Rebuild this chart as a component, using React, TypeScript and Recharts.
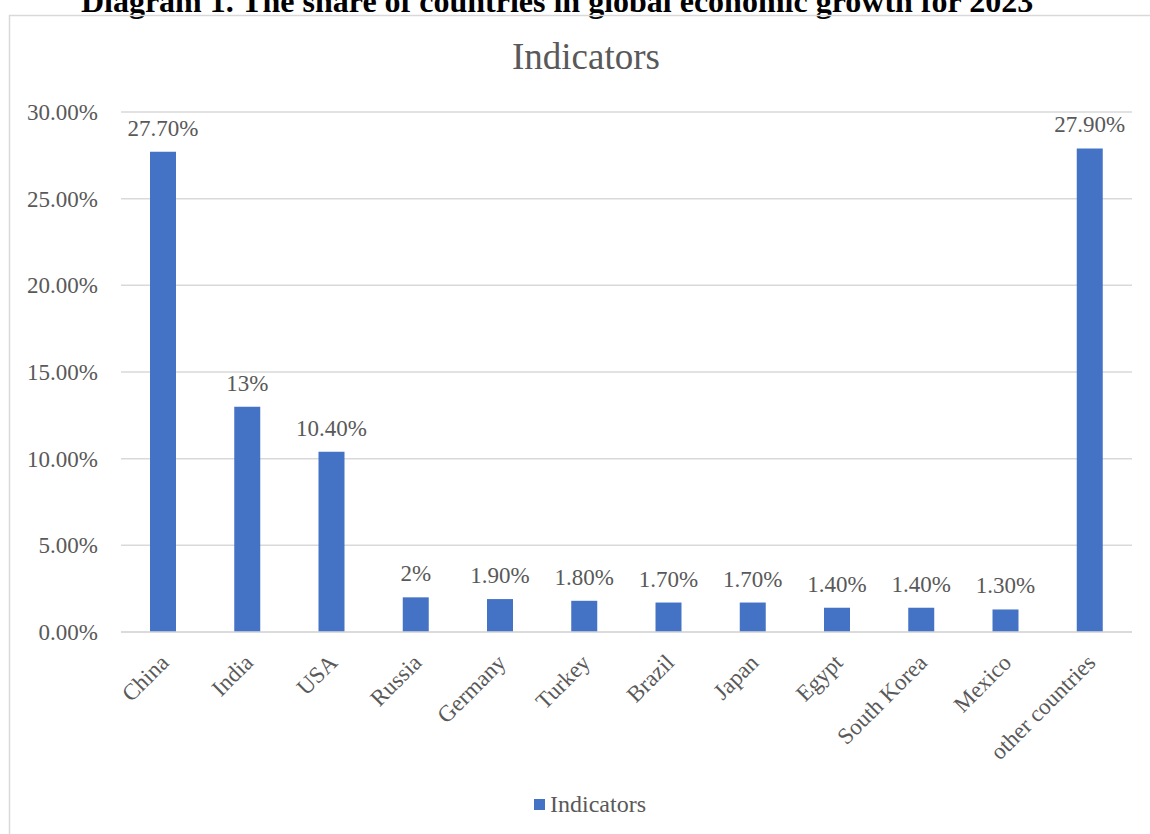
import React from 'react'
import { BarChart, Bar, XAxis, YAxis, CartesianGrid, Legend, LabelList } from 'recharts'

const countries = ['China', 'India', 'USA', 'Russia', 'Germany', 'Turkey', 'Brazil', 'Japan', 'Egypt', 'South Korea', 'Mexico', 'other countries']
const shares = [27.7, 13, 10.4, 2, 1.9, 1.8, 1.7, 1.7, 1.4, 1.4, 1.3, 27.9]
const shareLabels = ['27.70%', '13%', '10.40%', '2%', '1.90%', '1.80%', '1.70%', '1.70%', '1.40%', '1.40%', '1.30%', '27.90%']
const yTicks = [0, 5, 10, 15, 20, 25, 30]

const FONT = '"Liberation Serif", "Times New Roman", serif'
const TEXT = '#595959'
const BAR = '#4472c4'
const GRID = '#d9d9d9'

const data = countries.map((name, i) => ({ name, value: shares[i], label: shareLabels[i] }))

// rotated category labels, top-right end sits just right of the tick
const XTick = (props: any) => {
    const { x, y, payload } = props
    const ax = x + 7
    const ay = y + 32
    return (
        <text
            x={ax}
            y={ay}
            textAnchor="end"
            transform={`rotate(-45, ${ax}, ${ay})`}
            fill={TEXT}
            fontSize={23}
            fontFamily={FONT}
        >
            {payload.value}
        </text>
    )
}

const LegendContent = (props: any) => {
    const { payload } = props
    return (
        <div style={{ display: 'flex', alignItems: 'center', paddingLeft: 534, fontFamily: FONT }}>
            {(payload || []).map((entry: any) => (
                <div key={entry.value} style={{ display: 'flex', alignItems: 'center' }}>
                    <span style={{ display: 'inline-block', width: 11, height: 11, background: BAR, marginRight: 5 }} />
                    <span style={{ fontSize: 24, color: TEXT }}>{entry.value}</span>
                </div>
            ))}
        </div>
    )
}

export default function App() {
    return (
        <div style={{ position: 'absolute', left: 0, top: 0, width: 1150, height: 834, overflow: 'hidden', background: '#fff' }}>
            <svg width={1150} height={834} style={{ position: 'absolute', left: 0, top: 0 }}>
                <text x={557} y={12} textAnchor="middle" fontFamily={FONT} fontWeight="bold" fontSize={32} fill="#000">
                    Diagram 1. The share of countries in global economic growth for 2023
                </text>
                <rect x={9.5} y={15.5} width={1200} height={900} fill="none" stroke={GRID} strokeWidth={1.5} />
                <text x={586} y={69} textAnchor="middle" fontFamily={FONT} fontSize={37} fill={TEXT}>
                    Indicators
                </text>
            </svg>
            <div style={{ position: 'absolute', left: 0, top: 0 }}>
                <BarChart width={1150} height={834} data={data} margin={{ top: 112, right: 18, left: 0, bottom: 0 }}>
                    <CartesianGrid vertical={false} stroke={GRID} strokeWidth={1.5} />
                    <XAxis
                        dataKey="name"
                        interval={0}
                        height={202}
                        tickLine={false}
                        tickSize={0}
                        tickMargin={0}
                        axisLine={{ stroke: GRID, strokeWidth: 1.5 }}
                        tick={<XTick />}
                    />
                    <YAxis
                        width={121}
                        domain={[0, 30]}
                        ticks={yTicks}
                        axisLine={false}
                        tickLine={false}
                        tickSize={0}
                        tickMargin={23}
                        tickFormatter={(v: number) => v.toFixed(2) + '%'}
                        tick={{ fill: TEXT, fontSize: 23, fontFamily: FONT }}
                    />
                    <Legend
                        verticalAlign="middle"
                        align="center"
                        layout="horizontal"
                        wrapperStyle={{ top: 791, left: 0, width: 1150 }}
                        content={<LegendContent />}
                    />
                    <Bar dataKey="value" name="Indicators" fill={BAR} barSize={26} isAnimationActive={false}>
                        <LabelList
                            dataKey="label"
                            position="top"
                            offset={16}
                            fill={TEXT}
                            fontSize={23}
                            fontFamily={FONT}
                        />
                    </Bar>
                </BarChart>
            </div>
        </div>
    )
}
